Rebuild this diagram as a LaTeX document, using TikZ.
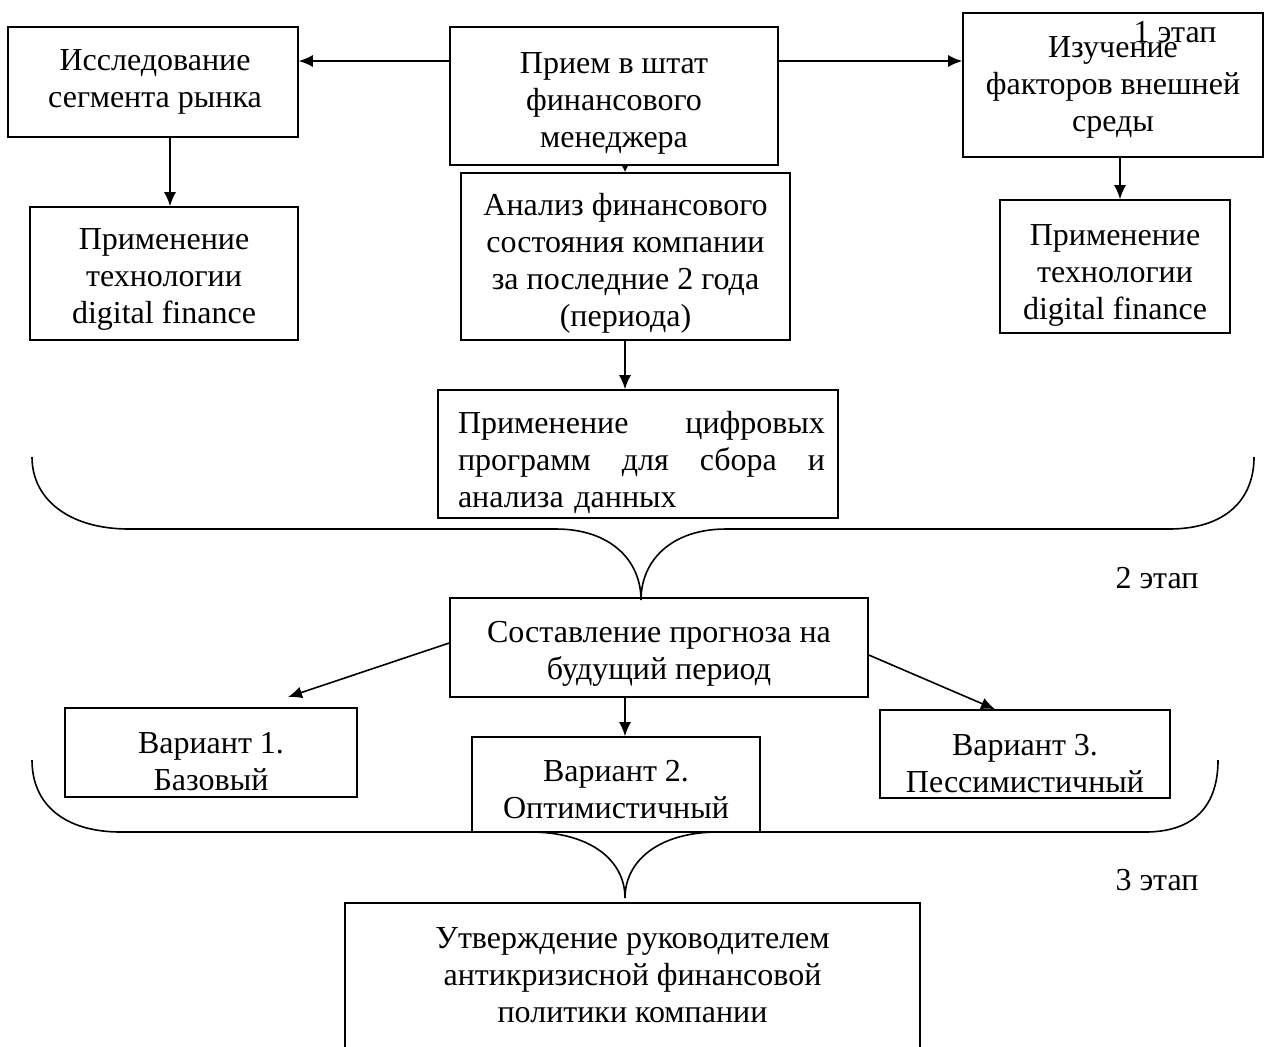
\documentclass[tikz,border=0pt]{standalone}
\usepackage{fontspec}
\setmainfont{Liberation Serif}
\usetikzlibrary{arrows.meta}
\begin{document}
\begin{tikzpicture}[x=0.5pt,y=-0.5pt,
  box/.style={draw,line width=0.8pt,inner sep=0pt},
  txt/.style={align=center,inner sep=0pt,font=\fontsize{16}{18.5}\selectfont},
  lbl/.style={inner sep=0pt,font=\fontsize{16}{18.5}\selectfont},
  arr/.style={line width=0.8pt,-{Latex[length=7pt,width=6pt]}},
  sarr/.style={line width=0.8pt,-{Latex[length=3pt,width=3pt]}},
  brace/.style={line width=0.8pt}]
\useasboundingbox (0,0) rectangle (1268,1046);
\fill[white] (0,0) rectangle (1268,1046);
% boxes
\node[box,minimum width=145pt,minimum height=55pt] (B1) at (153,82) {};
\node[box,minimum width=164pt,minimum height=69pt] (B2) at (614,96) {};
\node[box,minimum width=150pt,minimum height=72pt] (B3) at (1113,85) {};
\node[box,minimum width=134pt,minimum height=66.5pt] (B4) at (164,273.5) {};
\node[box,minimum width=164.5pt,minimum height=83.5pt] (B5) at (625.5,256.5) {};
\node[box,minimum width=115pt,minimum height=66.5pt] (B6) at (1115,266.5) {};
\node[box,minimum width=200pt,minimum height=64pt] (B7) at (638,454) {};
\node[box,minimum width=209pt,minimum height=49.5pt] (B8) at (659,647.5) {};
\node[box,minimum width=146pt,minimum height=44.5pt] (V1) at (211,752.5) {};
\node[box,minimum width=144pt,minimum height=47.5pt] (V2) at (616,784.5) {};
\node[box,minimum width=145pt,minimum height=44pt] (V3) at (1025,754) {};
\node[box,minimum width=287.5pt,minimum height=75pt] (B9) at (632.5,978) {};
% texts
\node[txt] (T1) at (155,81.5) {Исследование\\сегмента рынка};
\node[txt] (T2) at (614,103.5) {Прием в штат\\финансового\\менеджера};
\node[txt] (T3) at (1113,87) {Изучение\\факторов внешней\\среды};
\node[txt] (T4) at (164,279) {Применение\\технологии\\digital finance};
\node[txt] (T5) at (625.5,263) {Анализ финансового\\состояния компании\\за последние 2 года\\(периода)};
\node[txt] (T6) at (1115,275) {Применение\\технологии\\digital finance};
\node[txt,text width=183.5pt,align=left] (T7) at (641.5,462.5) {Применение\hfill цифровых\\программ\hfill для\hfill сбора\hfill и\\анализа данных};
\node[txt] (T8) at (659,654) {Составление прогноза на\\будущий период};
\node[txt] (T9) at (211,762) {Вариант 1.\\Базовый};
\node[txt] (T10) at (616,789.5) {Вариант 2.\\Оптимистичный};
\node[txt] (T11) at (1025,763.5) {Вариант 3.\\Пессимистичный};
\node[txt] (T12) at (632.5,975.5) {Утверждение руководителем\\антикризисной финансовой\\политики компании};
% stage labels
\node[lbl] (S1) at (1175,32) {1 этап};
\node[lbl] (S2) at (1157,578) {2 этап};
\node[lbl] (S3) at (1157,880) {3 этап};
% arrows
\draw[arr] (B2.west |- 0,61) -- (B1.east |- 0,61);
\draw[arr] (B2.east |- 0,61) -- (B3.west |- 0,61);
\draw[arr] (B1.south -| 170,0) -- (B4.north -| 170,0);
\draw[arr] (B3.south -| 1120,0) -- (B6.north -| 1120,0);
\draw[sarr] (B2.south -| 625,0) -- (B5.north -| 625,0);
\draw[arr] (B5.south -| 625,0) -- (B7.north -| 625,0);
\coordinate (v1t) at (288,697);
\draw[arr] (B8.west |- 0,643) -- (v1t);
\draw[arr] (B8.south -| 625,0) -- (V2.north -| 625,0);
\draw[arr] (B8.east |- 0,655) -- (V3.north -| 995,0);
% braces
\draw[brace] (32,457) .. controls (32,500) and (70,529) .. (129,529) -- (556,529)
  .. controls (610,529) and (641,560) .. (641,600)
  .. controls (641,560) and (672,529) .. (726,529) -- (1169,529)
  .. controls (1225,529) and (1254,500) .. (1254,457);
\draw[brace] (32,760) .. controls (32,805) and (65,832) .. (121,832) -- (530,832)
  .. controls (590,832) and (625,860) .. (625,898)
  .. controls (625,860) and (660,832) .. (718,832) -- (1145,832)
  .. controls (1195,832) and (1218,805) .. (1218,760);
\end{tikzpicture}
\end{document}
